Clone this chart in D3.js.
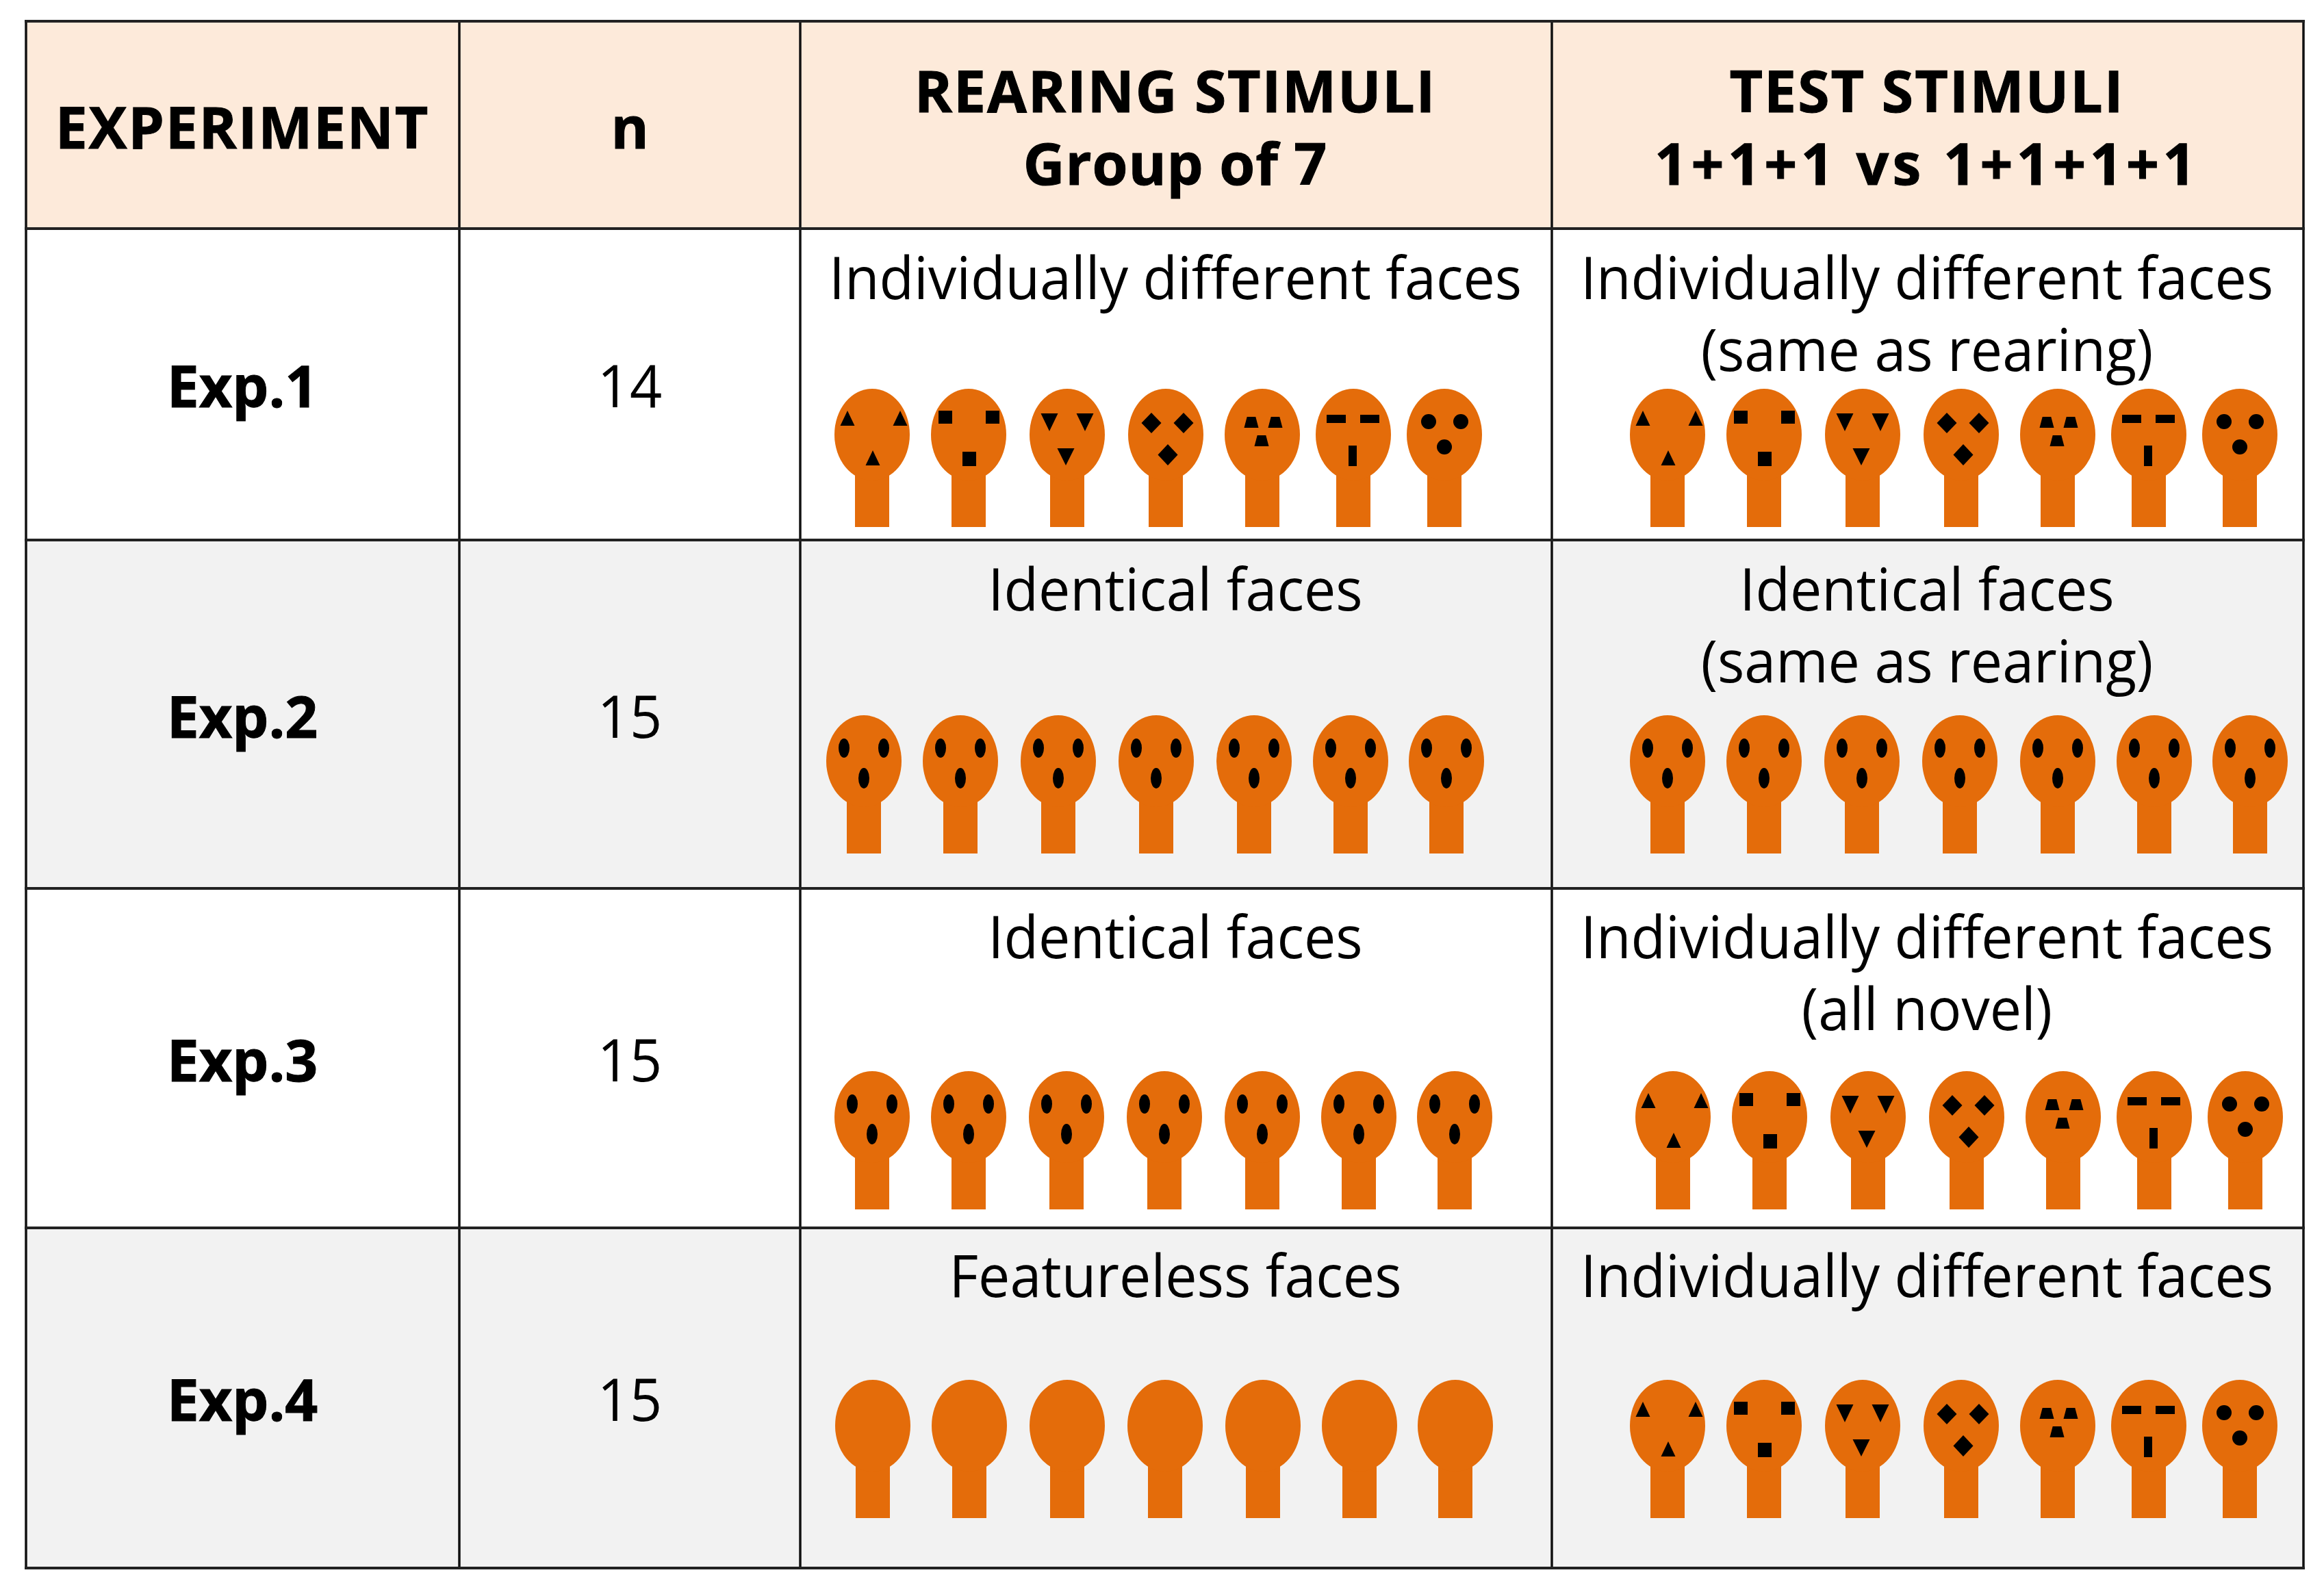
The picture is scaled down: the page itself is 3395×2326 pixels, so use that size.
<!DOCTYPE html>
<html>
<head>
<meta charset="utf-8">
<script src="https://cdn.jsdelivr.net/npm/d3@7"></script>
<style>
    body { margin: 0; background: #fff; }
    text { font-family: "Open Sans", "Noto Sans", sans-serif; fill: #000; text-anchor: middle; }
    .bold { font-weight: 700; stroke: #000; stroke-width: 1; }
</style>
</head>
<body>
<div id="chart"></div>
<script>
// Table content
var columnTitles = [["EXPERIMENT"], ["n"], ["REARING STIMULI", "Group of 7"], ["TEST STIMULI", "1+1+1 vs 1+1+1+1"]];
var experiments = ["Exp.1", "Exp.2", "Exp.3", "Exp.4"];
var nValues = [14, 15, 15, 15];
var rearingLabels = [["Individually different faces"], ["Identical faces"], ["Identical faces"], ["Featureless faces"]];
var testLabels = [
    ["Individually different faces", "(same as rearing)"],
    ["Identical faces", "(same as rearing)"],
    ["Individually different faces", "(all novel)"],
    ["Individually different faces"]
];
var rearingFaces = ["different", "identical", "identical", "featureless"];
var testFaces = ["different", "identical", "different", "different"];
var slots = ["triangle", "square", "triangleDown", "diamond", "trapezoid", "bar", "circle"];

// Chart Params
var svgWidth = 3395;
var svgHeight = 2326;
var orange = "#e46c0a";

var svg = d3.select("#chart")
    .append("svg")
    .attr("width", svgWidth)
    .attr("height", svgHeight);

// grid lines of the table
var colEdge = d3.scaleOrdinal([0, 1, 2, 3, 4], [38, 671, 1169, 2267, 3365]);
var rowEdge = d3.scaleOrdinal([0, 1, 2, 3, 4, 5], [31, 334, 789, 1298, 1794, 2291]);
var colCentre = d3.scaleOrdinal([0, 1, 2, 3], [354, 920, 1717, 2815]);

// first line baseline of the text in each row
var labelBase = d3.scaleOrdinal([0, 1, 2, 3], [437, 892, 1400, 1895]);
var sideBase = d3.scaleOrdinal([0, 1, 2, 3], [595, 1078, 1580, 2076]);

// top of the heads, and where the first head of each panel sits
var headTop = d3.scaleOrdinal([0, 1, 2, 3], [568, 1045, 1565, 2016]);
var rearingStart = d3.scaleOrdinal([0, 1, 2, 3], [1274, 1262, 1274, 1275]);
var testStart = d3.scaleOrdinal([0, 1, 2, 3], [2436, 2436, 2444, 2436]);

// heads are not evenly spaced in the different-faces panels
var slotDifferent = d3.scaleOrdinal(slots, [0, 141, 285, 429, 570, 703, 836]);
var slotIdentical = d3.scaleOrdinal(slots, [0, 141, 284, 427, 570, 711, 851]);

// row backgrounds
experiments.forEach(function(d, i) {
    svg.append("rect")
        .attr("x", colEdge(0))
        .attr("y", rowEdge(i + 1))
        .attr("width", colEdge(4) - colEdge(0))
        .attr("height", rowEdge(i + 2) - rowEdge(i + 1))
        .attr("fill", i % 2 ? "#f2f2f2" : "#fff");
});
svg.append("rect")
    .attr("x", colEdge(0))
    .attr("y", rowEdge(0))
    .attr("width", colEdge(4) - colEdge(0))
    .attr("height", rowEdge(1) - rowEdge(0))
    .attr("fill", "#fdeada");

// polygon helper, points are relative to the head centre and head top
function poly(dx, pts) {
    return pts.map(p => [p[0] + dx, p[1]]);
}

function triangleUp(dx, y0, y1, w) {
    return poly(dx, [[0, y0], [w / 2, y1], [-w / 2, y1]]);
}
function triangleDown(dx, y0, y1, w) {
    return poly(dx, [[-w / 2, y0], [w / 2, y0], [0, y1]]);
}
function box(dx, y0, y1, w) {
    return poly(dx, [[-w / 2, y0], [w / 2, y0], [w / 2, y1], [-w / 2, y1]]);
}
function diamond(dx, y0, y1, w) {
    return poly(dx, [[0, y0], [w / 2, (y0 + y1) / 2], [0, y1], [-w / 2, (y0 + y1) / 2]]);
}
function trapezoid(dx, y0, y1, w) {
    return poly(dx, [[-w * 0.3, y0], [w * 0.3, y0], [w / 2, y1], [-w / 2, y1]]);
}

var features = {
    triangle: [triangleUp(-36, 32, 54, 21), triangleUp(41, 32, 54, 21), triangleUp(1, 90, 112, 21)],
    square: [box(-34, 32, 51, 20), box(35, 32, 51, 20), box(1, 92, 113, 20)],
    triangleDown: [triangleDown(-26, 36, 62, 25), triangleDown(26, 36, 62, 25), triangleDown(-2, 87, 112, 25)],
    diamond: [diamond(-21, 35, 65, 29), diamond(26, 35, 65, 29), diamond(3, 81, 112, 29)],
    trapezoid: [trapezoid(-16, 41, 57, 21), trapezoid(19, 41, 57, 21), trapezoid(-1, 68, 84, 21)],
    bar: [box(-25, 38, 50, 28), box(24, 38, 50, 28), box(-1, 83, 113, 12)]
};
var dots = {
    circle: [[-23, 48, 11, 11], [24, 48, 11, 11], [0, 85, 11, 11]],
    identical: [[-29, 48, 8, 14], [29, 48, 8, 14], [0, 92, 8, 15]]
};

var polyLine = d3.line();

// one head with a neck and, unless featureless, three marks on it
function drawFace(cx, top, kind) {
    var g = svg.append("g").attr("transform", `translate(${cx}, ${top})`);
    g.append("rect")
        .attr("x", -25)
        .attr("y", 100)
        .attr("width", 50)
        .attr("height", 102)
        .attr("fill", orange);
    g.append("ellipse")
        .attr("cy", 67)
        .attr("rx", 55)
        .attr("ry", 67)
        .attr("fill", orange);

    if (features[kind]) {
        features[kind].forEach(function(pts) {
            g.append("path")
                .attr("d", polyLine(pts) + "Z")
                .attr("fill", "#000");
        });
    }
    if (dots[kind]) {
        dots[kind].forEach(function(e) {
            g.append("ellipse")
                .attr("cx", e[0])
                .attr("cy", e[1])
                .attr("rx", e[2])
                .attr("ry", e[3])
                .attr("fill", "#000");
        });
    }
}

function drawPanel(startX, top, faceType) {
    var slotX = faceType === "different" ? slotDifferent : slotIdentical;
    slots.forEach(function(slot) {
        var kind = faceType === "different" ? slot : faceType;
        drawFace(startX + slotX(slot), top, kind);
    });
}

experiments.forEach(function(d, i) {
    drawPanel(rearingStart(i), headTop(i), rearingFaces[i]);
    drawPanel(testStart(i), headTop(i), testFaces[i]);
});

// grid goes on top of the fills
d3.range(5).forEach(function(i) {
    svg.append("line")
        .attr("x1", colEdge(i))
        .attr("x2", colEdge(i))
        .attr("y1", rowEdge(0) - 2)
        .attr("y2", rowEdge(5) + 2)
        .attr("stroke", "#111")
        .attr("stroke-width", 3.5);
});
d3.range(6).forEach(function(i) {
    svg.append("line")
        .attr("x1", colEdge(0) - 2)
        .attr("x2", colEdge(4) + 2)
        .attr("y1", rowEdge(i))
        .attr("y2", rowEdge(i))
        .attr("stroke", "#222")
        .attr("stroke-width", 4);
});

// multi line text stays in one element, squeezed a little since Segoe UI is narrower
function drawLines(x, y, lines, lineGap, size, squeeze, bold) {
    var t = svg.append("text")
        .attr("transform", `translate(${x}, ${y}) scale(${squeeze}, 1)`)
        .attr("font-size", size)
        .classed("bold", bold);
    t.selectAll("tspan")
        .data(lines)
        .enter()
        .append("tspan")
        .attr("x", 0)
        .attr("dy", (d, l) => l ? lineGap : 0)
        .text(d => d);
    return t;
}

// header text
var headerBase = [217, 217, 164, 164];
var headerGap = 106;
var headerSpacing = [1.7, 0, 1.8, 2];
var secondLineSpacing = [0, 0, 0.9, 5.4];
columnTitles.forEach(function(lines, c) {
    var t = drawLines(colCentre(c), headerBase[c], lines, headerGap, 84, 1, true);
    t.selectAll("tspan")
        .attr("letter-spacing", (d, l) => l ? secondLineSpacing[c] : headerSpacing[c]);
});

// row text
experiments.forEach(function(d, i) {
    drawLines(colCentre(0), sideBase(i), [d], 0, 84, 1, true);
    drawLines(colCentre(1), sideBase(i), [String(nValues[i])], 0, 86, 0.96, false);
    drawLines(colCentre(2), labelBase(i), rearingLabels[i], 105, 86, 0.96, false);
    drawLines(colCentre(3), labelBase(i), testLabels[i], 105, 86, 0.96, false);
});
</script>
</body>
</html>
